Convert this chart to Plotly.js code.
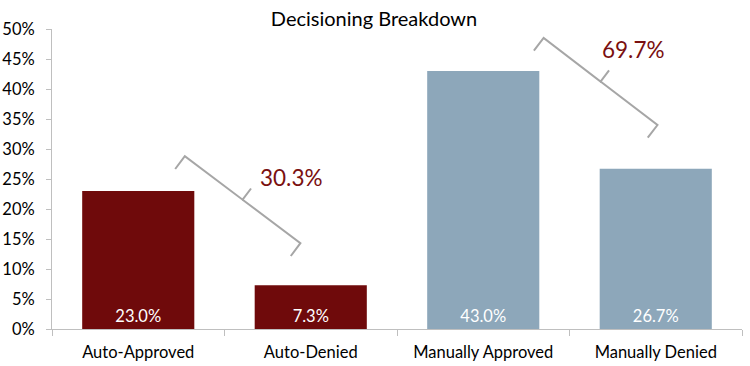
<!DOCTYPE html>
<html>
<head>
<meta charset="utf-8">
<script src="https://cdn.plot.ly/plotly-3.0.1.min.js"></script>
<style>html,body{margin:0;padding:0;background:#fff;}#chart{width:750px;height:366px;}</style>
</head>
<body>
<div id="chart"></div>
<script>
const categories = ["Auto-Approved", "Auto-Denied", "Manually Approved", "Manually Denied"];
const values = [23.0, 7.3, 43.0, 26.7];
const barColors = ["#6F0A0B", "#6F0A0B", "#8DA7BA", "#8DA7BA"];
const groups = [[0, 1], [2, 3]];
const yTicks = [0, 5, 10, 15, 20, 25, 30, 35, 40, 45, 50];

const W = 750, H = 366;
const M = {l: 52, r: 8, t: 29, b: 37};
const pw = W - M.l - M.r, ph = H - M.t - M.b;
const yMax = 50;
const n = categories.length;
const px = xc => M.l + (xc + 0.5) / n * pw;
const py = v => M.t + (1 - v / yMax) * ph;
const toPaperX = p => (p - M.l) / pw;
const toPaperY = p => 1 - (p - M.t) / ph;
const FONT = "Lato, 'Open Sans', sans-serif";

// bracket geometry in data units (start corner, end corner) and label position
const bracketGeom = [
  {x0: 0.27, y0: 28.8, x1: 0.94, y1: 14.3, lx: 0.89, ly: 25.3},
  {x0: 2.35, y0: 48.5, x1: 3.01, y1: 34.0, lx: 2.87, ly: 46.6}
];

const shapes = [];
const annotations = [];
bracketGeom.forEach((g, gi) => {
  const ax = px(g.x0), ay = py(g.y0), bx = px(g.x1), by = py(g.y1);
  const dx = bx - ax, dy = by - ay, L = Math.hypot(dx, dy);
  let nx = dy / L, ny = -dx / L;
  if (ny > 0) { nx = -nx; ny = -ny; }
  const hook = 16, tip = 14;
  const mx = (ax + bx) / 2, my = (ay + by) / 2;
  const pts = [
    [ax - nx * hook, ay - ny * hook], [ax, ay], [mx, my], [mx + nx * tip, my + ny * tip]
  ];
  const pts2 = [[mx, my], [bx, by], [bx - nx * hook, by - ny * hook]];
  const toPath = arr => arr.map((p, i) => (i ? "L" : "M") + toPaperX(p[0]).toFixed(5) + "," + toPaperY(p[1]).toFixed(5)).join(" ");
  [pts, pts2].forEach(arr => shapes.push({
    type: "path", xref: "paper", yref: "paper",
    path: toPath(arr), line: {color: "#A6A6A6", width: 2}
  }));
  const total = groups[gi].reduce((s, i) => s + values[i], 0);
  annotations.push({
    x: g.lx, y: g.ly, xref: "x", yref: "y", showarrow: false,
    text: total.toFixed(1) + "%",
    font: {family: FONT, size: 22.5, color: "#7A1010"}
  });
});

const trace = {
  type: "bar",
  x: categories,
  y: values,
  marker: {color: barColors},
  width: 0.65,
  text: values.map(v => v.toFixed(1) + "%"),
  textposition: "inside",
  insidetextanchor: "start",
  textangle: 0,
  insidetextfont: {family: FONT, size: 16.5, color: "#FFFFFF"},
  hoverinfo: "none"
};

const layout = {
  width: W, height: H,
  margin: M,
  paper_bgcolor: "#fff", plot_bgcolor: "#fff",
  showlegend: false,
  title: {text: "Decisioning Breakdown", x: 0.4987, xanchor: "center", y: 0.948, yanchor: "middle",
          font: {family: FONT, size: 20, color: "#000"}},
  xaxis: {
    type: "category", range: [-0.5, n - 0.5],
    showline: true, linecolor: "#BFBFBF", linewidth: 1,
    ticks: "outside", tickson: "boundaries", ticklen: 6, tickcolor: "#BFBFBF",
    ticklabelstandoff: 8,
    showgrid: false, zeroline: false,
    tickfont: {family: FONT, size: 16.5, color: "#000"}
  },
  yaxis: {
    range: [0, yMax], tickvals: yTicks, ticktext: yTicks.map(v => v + "%"),
    showline: true, linecolor: "#BFBFBF", linewidth: 1,
    ticks: "outside", ticklen: 5, tickcolor: "#BFBFBF",
    ticklabelstandoff: 8,
    showgrid: false, zeroline: false,
    tickfont: {family: FONT, size: 16.5, color: "#000"}
  },
  shapes: shapes,
  annotations: annotations
};

Plotly.newPlot("chart", [trace], layout, {staticPlot: true, displayModeBar: false});
</script>
</body>
</html>
